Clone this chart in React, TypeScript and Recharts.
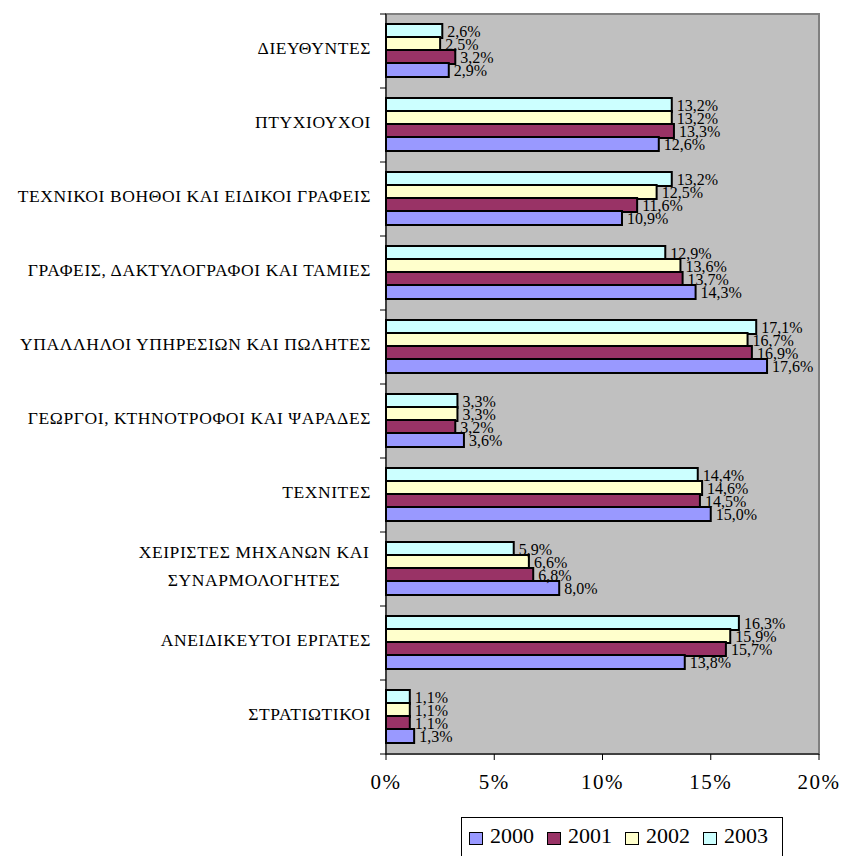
import React from 'react';
import { BarChart, Bar, XAxis, YAxis, CartesianGrid, LabelList, ReferenceArea } from 'recharts';

const categories = [
  'ΔΙΕΥΘΥΝΤΕΣ',
  'ΠΤΥΧΙΟΥΧΟΙ',
  'ΤΕΧΝΙΚΟΙ ΒΟΗΘΟΙ ΚΑΙ ΕΙΔΙΚΟΙ ΓΡΑΦΕΙΣ',
  'ΓΡΑΦΕΙΣ, ΔΑΚΤΥΛΟΓΡΑΦΟΙ ΚΑΙ ΤΑΜΙΕΣ',
  'ΥΠΑΛΛΗΛΟΙ ΥΠΗΡΕΣΙΩΝ ΚΑΙ ΠΩΛΗΤΕΣ',
  'ΓΕΩΡΓΟΙ, ΚΤΗΝΟΤΡΟΦΟΙ ΚΑΙ ΨΑΡΑΔΕΣ',
  'ΤΕΧΝΙΤΕΣ',
  'ΧΕΙΡΙΣΤΕΣ ΜΗΧΑΝΩΝ ΚΑΙ ΣΥΝΑΡΜΟΛΟΓΗΤΕΣ',
  'ΑΝΕΙΔΙΚΕΥΤΟΙ ΕΡΓΑΤΕΣ',
  'ΣΤΡΑΤΙΩΤΙΚΟΙ',
];

// label lines where the original wraps
const labelLines: Record<string, string[]> = {
  'ΧΕΙΡΙΣΤΕΣ ΜΗΧΑΝΩΝ ΚΑΙ ΣΥΝΑΡΜΟΛΟΓΗΤΕΣ': ['ΧΕΙΡΙΣΤΕΣ ΜΗΧΑΝΩΝ ΚΑΙ', 'ΣΥΝΑΡΜΟΛΟΓΗΤΕΣ'],
};

const y2000 = [2.9, 12.6, 10.9, 14.3, 17.6, 3.6, 15.0, 8.0, 13.8, 1.3];
const y2001 = [3.2, 13.3, 11.6, 13.7, 16.9, 3.2, 14.5, 6.8, 15.7, 1.1];
const y2002 = [2.5, 13.2, 12.5, 13.6, 16.7, 3.3, 14.6, 6.6, 15.9, 1.1];
const y2003 = [2.6, 13.2, 13.2, 12.9, 17.1, 3.3, 14.4, 5.9, 16.3, 1.1];

const xTicks = [0, 5, 10, 15, 20];

const series = [
  { key: 'y2000', name: '2000', color: '#9999FF' },
  { key: 'y2001', name: '2001', color: '#993366' },
  { key: 'y2002', name: '2002', color: '#FFFFCC' },
  { key: 'y2003', name: '2003', color: '#CCFFFF' },
];

const data = categories.map((name, i) => ({
  name,
  y2000: y2000[i],
  y2001: y2001[i],
  y2002: y2002[i],
  y2003: y2003[i],
}));

const FONT = '"Liberation Serif", "Times New Roman", serif';
const CHART_W = 843;
const CHART_H = 810;
const MARGIN = { top: 14, right: 24, bottom: 16, left: 0 };
const X_AXIS_H = 40;
const BAND = (CHART_H - MARGIN.top - MARGIN.bottom - X_AXIS_H) / categories.length;

const fmt = (v: any) => `${Number(v).toFixed(1).replace('.', ',')}%`;

const CategoryTick = (props: any) => {
  const { x, y, payload, index } = props;
  const lines = labelLines[payload.value];
  const axisX = x + 15;
  const textProps = {
    fontFamily: FONT,
    fontSize: 17.5,
    letterSpacing: 0.6,
    fill: '#000',
    dominantBaseline: 'central' as const,
  };
  return (
    <g>
      <line x1={axisX - 6} x2={axisX} y1={y - BAND / 2} y2={y - BAND / 2} stroke="#000" />
      {index === categories.length - 1 && (
        <line x1={axisX - 6} x2={axisX} y1={y + BAND / 2} y2={y + BAND / 2} stroke="#000" />
      )}
      {lines ? (
        lines.map((l, i) => (
          <text key={i} x={x - 117} y={y - 17 + i * 28} textAnchor="middle" {...textProps}>
            {l}
          </text>
        ))
      ) : (
        <text x={x} y={y - 3} textAnchor="end" {...textProps}>
          {payload.value}
        </text>
      )}
    </g>
  );
};

const Legend = () => (
  <div
    style={{
      position: 'absolute',
      left: 461,
      top: 817,
      width: 322,
      height: 46,
      border: '1px solid #000',
      boxSizing: 'border-box',
      background: '#fff',
      fontFamily: FONT,
      fontSize: 22,
    }}
  >
    {series.map((s, i) => (
      <div key={s.key} style={{ position: 'absolute', left: 7 + i * 78, top: 4, height: 28, width: 78 }}>
        <span
          style={{
            position: 'absolute',
            left: 0,
            top: 10,
            width: 12,
            height: 11,
            background: s.color,
            border: '1.5px solid #000',
          }}
        />
        <span style={{ position: 'absolute', left: 21, top: 0, lineHeight: '28px' }}>{s.name}</span>
      </div>
    ))}
  </div>
);

export default function App() {
  return (
    <div style={{ position: 'absolute', left: 0, top: 0, width: CHART_W, height: 856, background: '#fff', overflow: 'hidden' }}>
      <BarChart
        width={CHART_W}
        height={CHART_H}
        data={data}
        layout="vertical"
        margin={MARGIN}
        barCategoryGap="13.5%"
        barGap={-1}
      >
        <CartesianGrid fill="#C0C0C0" horizontal={false} vertical={false} />
        <ReferenceArea
          x1={0}
          x2={20}
          y1={categories[0]}
          y2={categories[categories.length - 1]}
          fill="none"
          stroke="#808080"
          strokeWidth={2}
          ifOverflow="visible"
        />
        <XAxis
          type="number"
          domain={[0, 20]}
          ticks={xTicks}
          tickFormatter={(v) => `${v}%`}
          height={X_AXIS_H}
          axisLine={{ stroke: '#000' }}
          tickLine={{ stroke: '#000' }}
          tickSize={6}
          tickMargin={14}
          tick={{ fontFamily: FONT, fontSize: 21, fill: '#000', letterSpacing: 1.5 }}
        />
        <YAxis
          type="category"
          dataKey="name"
          width={386}
          axisLine={{ stroke: '#000' }}
          tickLine={false}
          tickSize={6}
          tickMargin={9}
          interval={0}
          tick={<CategoryTick />}
        />
        {[...series].reverse().map((s) => (
          <Bar
            key={s.key}
            dataKey={s.key}
            name={s.name}
            fill={s.color}
            stroke="#000"
            strokeWidth={2}
            isAnimationActive={false}
          >
            <LabelList
              dataKey={s.key}
              position="right"
              offset={5}
              formatter={fmt}
              style={{ fontFamily: FONT, fontSize: 16, fill: '#000' }}
            />
          </Bar>
        ))}
      </BarChart>
      <Legend />
    </div>
  );
}
